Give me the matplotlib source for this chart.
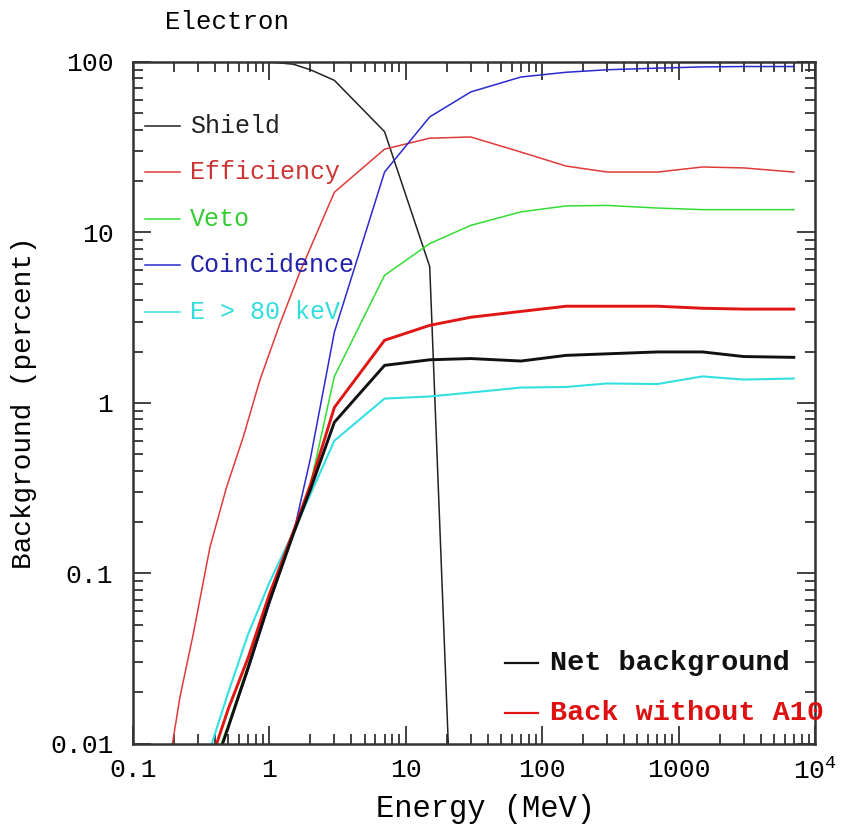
import matplotlib
matplotlib.use("Agg")
import matplotlib.pyplot as plt
from matplotlib.ticker import LogLocator, NullFormatter, FixedLocator, FixedFormatter

plt.rcParams['font.family'] = ['Liberation Mono', 'DejaVu Sans Mono']
plt.rcParams['mathtext.fontset'] = 'custom'
plt.rcParams['mathtext.rm'] = 'Liberation Mono'

# ---- data ----
energy_shield = [0.1, 0.3, 1, 1.5, 2, 3, 7, 15, 30]
shield = [100, 100, 100, 97, 90, 78, 39, 6.3, 4e-6]

energy_eff = [0.15, 0.195, 0.221, 0.277, 0.367, 0.486, 0.644, 0.853, 1.2, 1.67, 3, 7, 15, 30, 70, 150, 300, 700, 1500, 3000, 7000]
efficiency = [0.0025, 0.01, 0.0187, 0.044, 0.142, 0.32, 0.63, 1.36, 2.93, 5.8, 17.2, 30.8, 35.7, 36.3, 29.6, 24.5, 22.6, 22.6, 24.2, 23.9, 22.6]

energy = [0.3, 0.5, 0.7, 1, 1.5, 2, 3, 7, 15, 30, 70, 150, 300, 700, 1500, 3000, 7000]
veto = [0.0042, 0.013, 0.029, 0.07, 0.175, 0.33, 1.43, 5.6, 8.6, 11.0, 13.2, 14.3, 14.4, 13.9, 13.6, 13.6, 13.6]
coincidence = [0.0040, 0.0125, 0.027, 0.066, 0.17, 0.47, 2.6, 22.6, 47.6, 66.7, 81.6, 87, 90, 92, 93.5, 94, 94]
e80 = [0.0056, 0.020, 0.044, 0.088, 0.175, 0.29, 0.60, 1.06, 1.09, 1.15, 1.23, 1.24, 1.30, 1.29, 1.43, 1.37, 1.39]
net_background = [0.0038, 0.0125, 0.028, 0.068, 0.17, 0.31, 0.77, 1.66, 1.79, 1.82, 1.76, 1.90, 1.94, 1.99, 1.99, 1.87, 1.85]
back_without_a10 = [0.0047, 0.016, 0.032, 0.075, 0.175, 0.33, 0.94, 2.33, 2.85, 3.18, 3.44, 3.69, 3.69, 3.69, 3.59, 3.55, 3.55]

xtick_vals = [0.1, 1, 10, 100, 1000, 10000]
xtick_labels = ["0.1", "1", "10", "100", "1000", r"$\mathregular{10^4}$"]
ytick_vals = [0.01, 0.1, 1, 10, 100]
ytick_labels = ["0.01", "0.1", "1", "10", "100"]

thin_legend = [("Shield", "#222222", "#222222"),
               ("Efficiency", "#e03a3a", "#cc3333"),
               ("Veto", "#33dd33", "#33cc33"),
               ("Coincidence", "#2a2ad0", "#2222aa"),
               ("E > 80 keV", "#33e0e0", "#33dddd")]
thick_legend = [("Net background", "#111111", "#111111"),
                ("Back without A10", "#e01515", "#dd1111")]

# ---- figure ----
fig = plt.figure(figsize=(8.41, 8.26), dpi=100)
ax = fig.add_axes([0.158, 0.0995, 0.811, 0.8255])
ax.set_xscale('log')
ax.set_yscale('log')
ax.set_xlim(0.1, 1e4)
ax.set_ylim(0.01, 100)

lw_thin = 1.1
lw_thick = 2.1
ax.plot(energy_shield, shield, color="#222222", lw=lw_thin)
ax.plot(energy_eff, efficiency, color="#e03a3a", lw=lw_thin)
ax.plot(energy, veto, color="#33dd33", lw=lw_thin)
ax.plot(energy, coincidence, color="#2a2ad0", lw=lw_thin)
ax.plot(energy, e80, color="#33e0e0", lw=1.5)
ax.plot(energy, back_without_a10, color="#e01515", lw=lw_thick)
ax.plot(energy, net_background, color="#111111", lw=lw_thick)

# ticks
ax.xaxis.set_major_locator(FixedLocator(xtick_vals))
ax.xaxis.set_major_formatter(FixedFormatter(xtick_labels))
ax.xaxis.set_minor_locator(LogLocator(base=10, subs=range(2, 10), numticks=20))
ax.xaxis.set_minor_formatter(NullFormatter())
ax.yaxis.set_major_locator(FixedLocator(ytick_vals))
ax.yaxis.set_major_formatter(FixedFormatter(ytick_labels))
ax.yaxis.set_minor_locator(LogLocator(base=10, subs=range(2, 10), numticks=20))
ax.yaxis.set_minor_formatter(NullFormatter())

ax.tick_params(which='both', direction='in', top=True, right=True, color='#333333', width=1.3)
ax.tick_params(which='major', length=13, labelsize=19)
ax.tick_params(which='minor', length=7)
ax.tick_params(axis='x', which='major', pad=10)
ax.tick_params(axis='y', which='major', pad=14)
for sp in ax.spines.values():
    sp.set_linewidth(1.8)
    sp.set_color('#333333')

ax.set_xlabel("Energy (MeV)", fontsize=22)
ax.xaxis.set_label_coords((486 - 133) / 682, -(794 - 744) / 682)
ax.set_ylabel("Background (percent)", fontsize=20)
ax.yaxis.set_label_coords(-(133 - 37) / 682, 0.5)
fig.text(165 / 841, 1 - 22 / 826, "Electron", fontsize=18.5, va='center', ha='left')

# legends drawn by hand (axes coordinates)
x0 = (145 - 133) / 682
x1 = (180 - 133) / 682
xt = (190 - 133) / 682
for i, (lab, lc, tc) in enumerate(thin_legend):
    yy = 1 - (126 + 46.5 * i - 62) / 682
    ax.plot([x0, x1], [yy, yy], color=lc, lw=1.1, transform=ax.transAxes)
    ax.text(xt, yy, lab, color=tc, fontsize=18, va='center', ha='left', transform=ax.transAxes)

x0 = (505 - 133) / 682
x1 = (538 - 133) / 682
xt = (550 - 133) / 682
for i, (lab, lc, tc) in enumerate(thick_legend):
    yy = 1 - (663 + 50 * i - 62) / 682
    ax.plot([x0, x1], [yy, yy], color=lc, lw=1.6, transform=ax.transAxes)
    ax.text(xt, yy, lab, color=tc, fontsize=20.5, fontweight='bold', va='center', ha='left',
            transform=ax.transAxes)

fig.savefig("out.png", dpi=100)
